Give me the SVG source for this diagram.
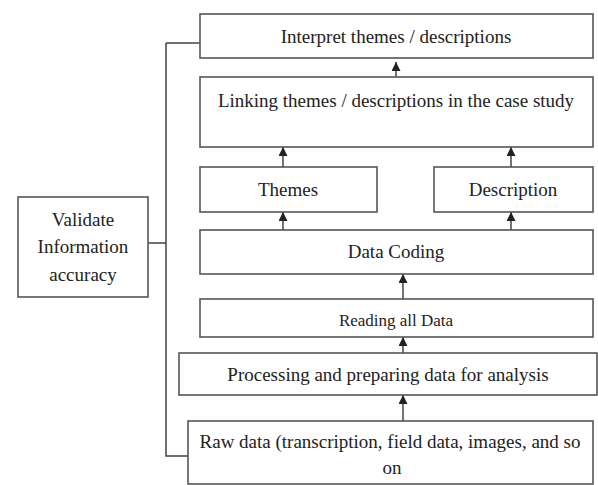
<svg xmlns="http://www.w3.org/2000/svg" width="598" height="485" viewBox="0 0 598 485">
<defs>
<marker id="ah" viewBox="0 0 10 10" refX="10" refY="5" markerWidth="10" markerHeight="9" markerUnits="userSpaceOnUse" orient="auto">
<path d="M0,0 L10,5 L0,10 z" fill="#222"/>
</marker>
</defs>
<style>
rect.box{fill:#fff;stroke:#555;stroke-width:1.6}
text{font-family:"Liberation Serif","Times New Roman",serif;font-size:19px;fill:#222;text-anchor:middle}
.sm{font-size:17px}
.cn{fill:none;stroke:#444;stroke-width:1.5}
</style>
<rect width="598" height="485" fill="#fff"/>
<g id="connectors">
<path class="cn" d="M166,43 H200 M166,43 V456 H188 M148,243 H166"/>
<path class="cn" d="M396,77 V62" marker-end="url(#ah)"/>
<path class="cn" d="M283,167 V147" marker-end="url(#ah)"/>
<path class="cn" d="M511,167 V147" marker-end="url(#ah)"/>
<path class="cn" d="M283,230 V212" marker-end="url(#ah)"/>
<path class="cn" d="M511,230 V212" marker-end="url(#ah)"/>
<path class="cn" d="M403,299 V274" marker-end="url(#ah)"/>
<path class="cn" d="M403,353 V337" marker-end="url(#ah)"/>
<path class="cn" d="M403,421 V395" marker-end="url(#ah)"/>
</g>
<g id="interpret"><rect class="box" x="200" y="14" width="393" height="44"/><text x="396" y="43">Interpret themes / descriptions</text></g>
<g id="linking"><rect class="box" x="200" y="77" width="393" height="70"/><text x="396" y="107">Linking themes / descriptions in the case study</text></g>
<g id="themes"><rect class="box" x="200" y="167" width="177" height="45"/><text x="288" y="196">Themes</text></g>
<g id="description"><rect class="box" x="434" y="167" width="159" height="45"/><text x="513" y="196">Description</text></g>
<g id="coding"><rect class="box" x="200" y="230" width="393" height="44"/><text x="396" y="258">Data Coding</text></g>
<g id="reading"><rect class="box" x="200" y="299" width="393" height="38"/><text class="sm" x="396" y="326">Reading all Data</text></g>
<g id="processing"><rect class="box" x="179" y="353" width="418" height="42"/><text x="388" y="381">Processing and preparing data for analysis</text></g>
<g id="raw"><rect class="box" x="188" y="421" width="405" height="63"/><text x="390" y="448">Raw data (transcription, field data, images, and so</text><text x="392" y="474">on</text></g>
<g id="validate"><rect class="box" x="18" y="197" width="130" height="100"/><text x="83" y="226">Validate</text><text x="83" y="253">Information</text><text x="83" y="281">accuracy</text></g>
</svg>
